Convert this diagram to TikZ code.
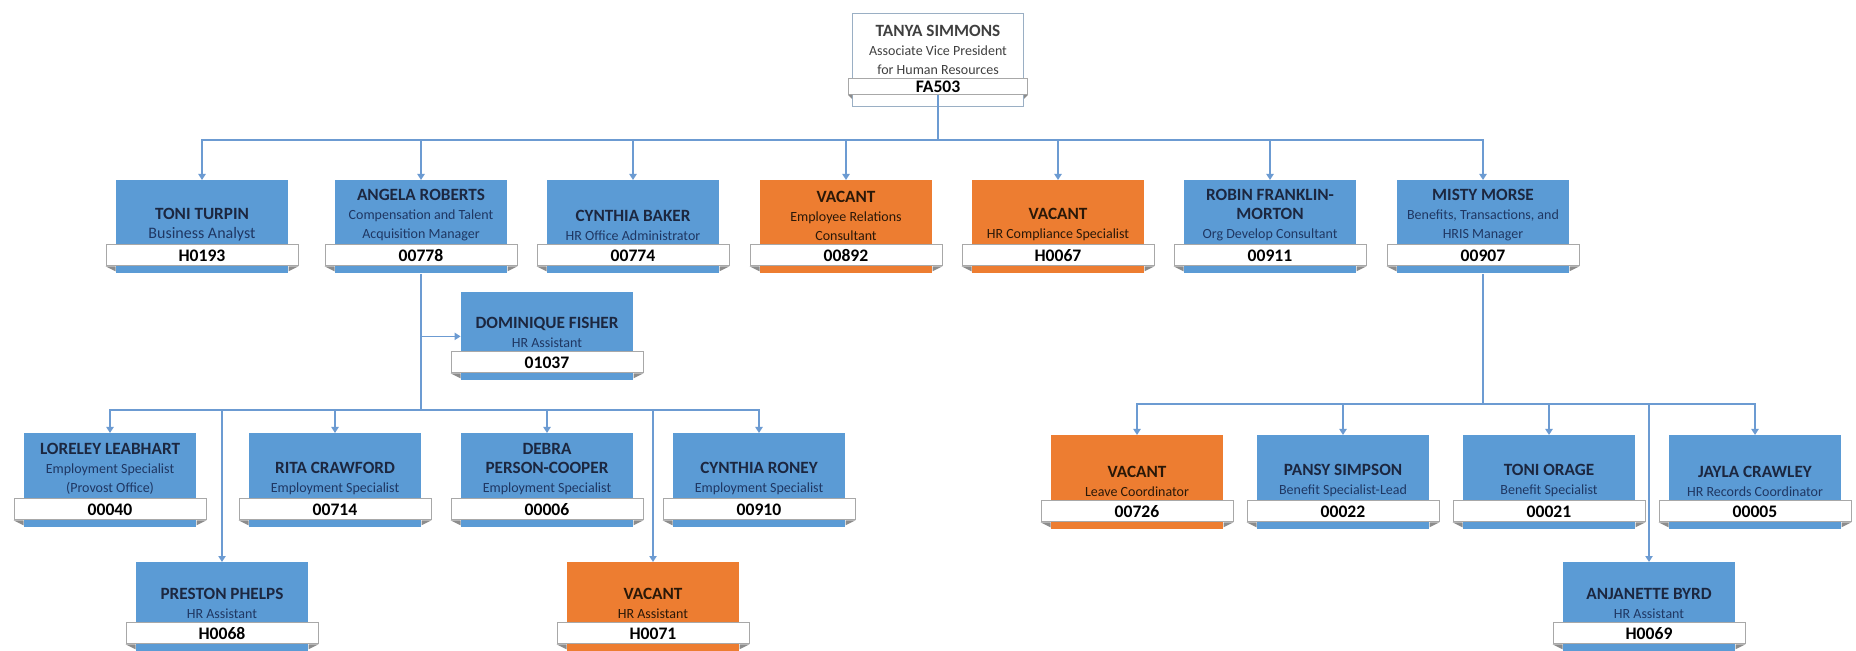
\documentclass[tikz,border=0pt]{standalone}
\usepackage{fontspec}
\setmainfont{Carlito}
\usetikzlibrary{arrows.meta}
\definecolor{boxblue}{HTML}{5B9BD5}
\definecolor{boxorange}{HTML}{ED7D31}
\definecolor{conncol}{HTML}{6C9BD2}
\definecolor{namebl}{HTML}{1C2740}
\definecolor{titlebl}{HTML}{1F3763}
\definecolor{nameor}{HTML}{2A1808}
\definecolor{titleor}{HTML}{4A2A10}
\definecolor{topedge}{HTML}{9AAFC4}
\definecolor{banneredge}{HTML}{A8A8A8}
\definecolor{foldcol}{HTML}{8C8C8C}
\newcommand{\nm}[1]{{\fontsize{8.6}{10}\selectfont\bfseries #1}}
\tikzset{
  bluebox/.style={fill=boxblue, draw=none, minimum width=86pt, inner sep=0pt},
  orangebox/.style={fill=boxorange, draw=none, minimum width=86pt, inner sep=0pt},
  blueboxtext/.style={text=titlebl, align=center, inner sep=0pt, font=\fontsize{7}{9.5}\selectfont},
  orangeboxtext/.style={text=nameor, align=center, inner sep=0pt, font=\fontsize{7}{9.5}\selectfont},
  banner/.style={fill=white, draw=banneredge, line width=0.5pt, minimum width=96pt, minimum height=10.5pt, inner sep=0pt, font=\fontsize{8.8}{9}\selectfont\bfseries, text=black},
  foldc/.style={fill=foldcol},
  conn/.style={draw=conncol, line width=0.8pt},
  arr/.style={conn, -{Triangle[width=3.6pt,length=3pt]}},
}
\newcommand{\orgbox}[7]{%
  \node[#5, minimum height=#4*0.5pt, anchor=north] (#1) at (#2,#3) {};
  \node[banner] (#1b) at ([yshift=9.25pt]#1.south) {#7};
  \fill[foldc] (#1b.south west) -- ++(5pt,-2.5pt) -- ++(0,2.5pt) -- cycle;
  \fill[foldc] (#1b.south east) -- ++(-5pt,-2.5pt) -- ++(0,2.5pt) -- cycle;
  \node[#5text, anchor=south] (#1t) at ([yshift=1.5pt]#1b.north) {#6};
}
\begin{document}
\begin{tikzpicture}[x=0.5pt,y=-0.5pt]
\useasboundingbox[fill=white] (0,0) rectangle (1856,651);
% top node
\node[fill=white, draw=topedge, line width=0.7pt, minimum width=85.5pt, minimum height=46.5pt, inner sep=0pt, anchor=north] (top) at (938,13) {};
\node[banner, minimum width=89.5pt, minimum height=8pt] (topb) at ([yshift=10.5pt]top.south) {FA503};
\fill[foldc] (topb.south west) -- ++(2pt,-2pt) -- ++(0,2pt) -- cycle;
\fill[foldc] (topb.south east) -- ++(-2pt,-2pt) -- ++(0,2pt) -- cycle;
\node[text=black!75, align=center, inner sep=0pt, font=\fontsize{7}{9.5}\selectfont, anchor=south] (topt) at ([yshift=1.5pt]topb.north) {\nm{TANYA SIMMONS}\\Associate Vice President\\for Human Resources};
% row 1
\orgbox{tt}{202}{180}{93}{bluebox}{\textcolor{namebl}{\nm{TONI TURPIN}}\\{\fontsize{8}{9.5}\selectfont Business Analyst}}{H0193}
\orgbox{ar}{421}{180}{93}{bluebox}{\textcolor{namebl}{\nm{ANGELA ROBERTS}}\\Compensation and Talent\\Acquisition Manager}{00778}
\orgbox{cb}{633}{180}{93}{bluebox}{\textcolor{namebl}{\nm{CYNTHIA BAKER}}\\HR Office Administrator}{00774}
\orgbox{vea}{846}{180}{93}{orangebox}{\nm{VACANT}\\Employee Relations\\Consultant}{00892}
\orgbox{veb}{1058}{180}{93}{orangebox}{\nm{VACANT}\\HR Compliance Specialist}{H0067}
\orgbox{rf}{1270}{180}{93}{bluebox}{\textcolor{namebl}{\nm{ROBIN FRANKLIN-}}\\\textcolor{namebl}{\nm{MORTON}}\\Org Develop Consultant}{00911}
\orgbox{mm}{1483}{180}{93}{bluebox}{\textcolor{namebl}{\nm{MISTY MORSE}}\\Benefits, Transactions, and\\HRIS Manager}{00907}
% dominique
\orgbox{df}{547}{292}{88}{bluebox}{\textcolor{namebl}{\nm{DOMINIQUE FISHER}}\\HR Assistant}{01037}
% row 2 left
\orgbox{ll}{110}{433}{94}{bluebox}{\textcolor{namebl}{\nm{LORELEY LEABHART}}\\Employment Specialist\\(Provost Office)}{00040}
\orgbox{rc}{335}{433}{94}{bluebox}{\textcolor{namebl}{\nm{RITA CRAWFORD}}\\Employment Specialist}{00714}
\orgbox{dp}{547}{433}{94}{bluebox}{\textcolor{namebl}{\nm{DEBRA}}\\\textcolor{namebl}{\nm{PERSON-COOPER}}\\Employment Specialist}{00006}
\orgbox{cr}{759}{433}{94}{bluebox}{\textcolor{namebl}{\nm{CYNTHIA RONEY}}\\Employment Specialist}{00910}
% row 2 right
\orgbox{vl}{1137}{435}{94}{orangebox}{\nm{VACANT}\\Leave Coordinator}{00726}
\orgbox{ps}{1343}{435}{94}{bluebox}{\textcolor{namebl}{\nm{PANSY SIMPSON}}\\Benefit Specialist-Lead}{00022}
\orgbox{to}{1549}{435}{94}{bluebox}{\textcolor{namebl}{\nm{TONI ORAGE}}\\Benefit Specialist}{00021}
\orgbox{jc}{1755}{435}{94}{bluebox}{\textcolor{namebl}{\nm{JAYLA CRAWLEY}}\\HR Records Coordinator}{00005}
% row 3
\orgbox{pp}{222}{562}{89}{bluebox}{\textcolor{namebl}{\nm{PRESTON PHELPS}}\\HR Assistant}{H0068}
\orgbox{vh}{653}{562}{89}{orangebox}{\nm{VACANT}\\HR Assistant}{H0071}
\orgbox{ab}{1649}{562}{89}{bluebox}{\textcolor{namebl}{\nm{ANJANETTE BYRD}}\\HR Assistant}{H0069}
% connectors
\coordinate (hub1) at (938,140);
\coordinate (hub2) at (421,410);
\coordinate (hub3) at (1483,404);
\draw[conn] (topb.south) -- (hub1);
\foreach \t in {tt,ar,cb,vea,veb,rf,mm} {\draw[arr] (hub1) -| (\t.north);}
\draw[conn] (ar.south) -- (hub2);
\draw[arr] (ar.south |- df.west) -- (df.west);
\foreach \t in {ll,rc,dp,cr,pp,vh} {\draw[arr] (hub2) -| (\t.north);}
\draw[conn] (mm.south) -- (hub3);
\foreach \t in {vl,ps,to,jc,ab} {\draw[arr] (hub3) -| (\t.north);}
\end{tikzpicture}
\end{document}
